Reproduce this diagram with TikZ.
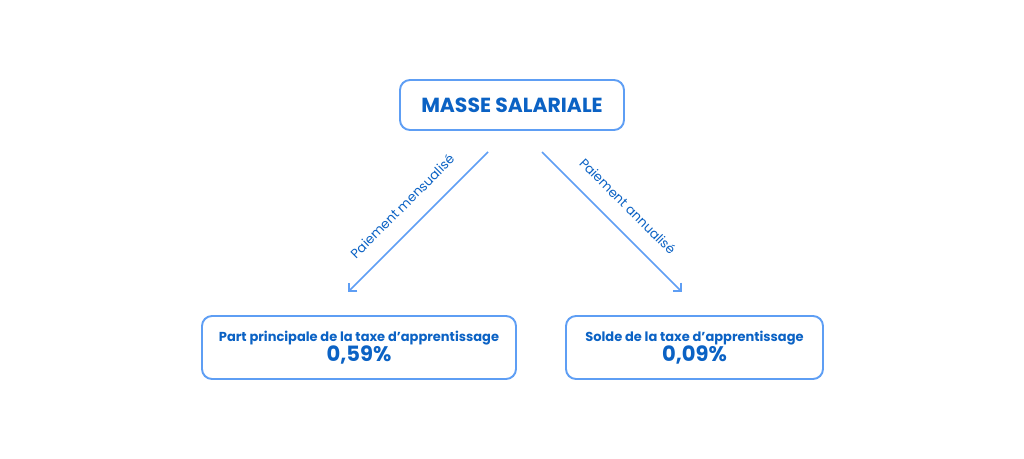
\documentclass[tikz,border=0pt]{standalone}
\usepackage{fontspec}
\setmainfont{Poppins}
\usetikzlibrary{arrows.meta}
\definecolor{boxblue}{HTML}{5E9EF4}
\definecolor{textblue}{HTML}{0B62C4}

\begin{document}
\begin{tikzpicture}[x=0.02cm,y=-0.02cm,
    box/.style={draw=boxblue, line width=1.1pt, rounded corners=0.2cm, text=textblue, align=center},
    flow/.style={draw=boxblue, line width=0.9pt, -{Straight Barb[angle=90:0.14cm 1,line width=0.9pt]}},
    lab/.style={text=textblue, font=\fontsize{7.4}{8}\selectfont}]
\useasboundingbox (0,0) rectangle (1024,459);
% boxes
\node[box, minimum width=224*0.02cm, minimum height=50*0.02cm, font=\bfseries\fontsize{11.6}{13}\selectfont] (masse) at (512,105) {MASSE SALARIALE};
\node[box, minimum width=314*0.02cm, minimum height=63*0.02cm] (part) at (359,347.5)
    {{\bfseries\fontsize{7.4}{9}\selectfont Part principale de la taxe d’apprentissage}\\[-1pt]{\bfseries\fontsize{12}{13}\selectfont 0,59\%}};
\node[box, minimum width=257*0.02cm, minimum height=63*0.02cm] (solde) at (694.5,347.5)
    {{\bfseries\fontsize{7.4}{9}\selectfont Solde de la taxe d’apprentissage}\\[-1pt]{\bfseries\fontsize{12}{13}\selectfont 0,09\%}};
% arrow ends
\coordinate (ls) at (488,152);
\coordinate (le) at (348,292);
\coordinate (rs) at (542,152);
\coordinate (re) at (682,292);
\draw[flow] (ls) -- (le) node[lab, midway, sloped, above=6pt] {Paiement mensualisé};
\draw[flow] (rs) -- (re) node[lab, midway, sloped, above=6pt] {Paiement annualisé};
\end{tikzpicture}
\end{document}
